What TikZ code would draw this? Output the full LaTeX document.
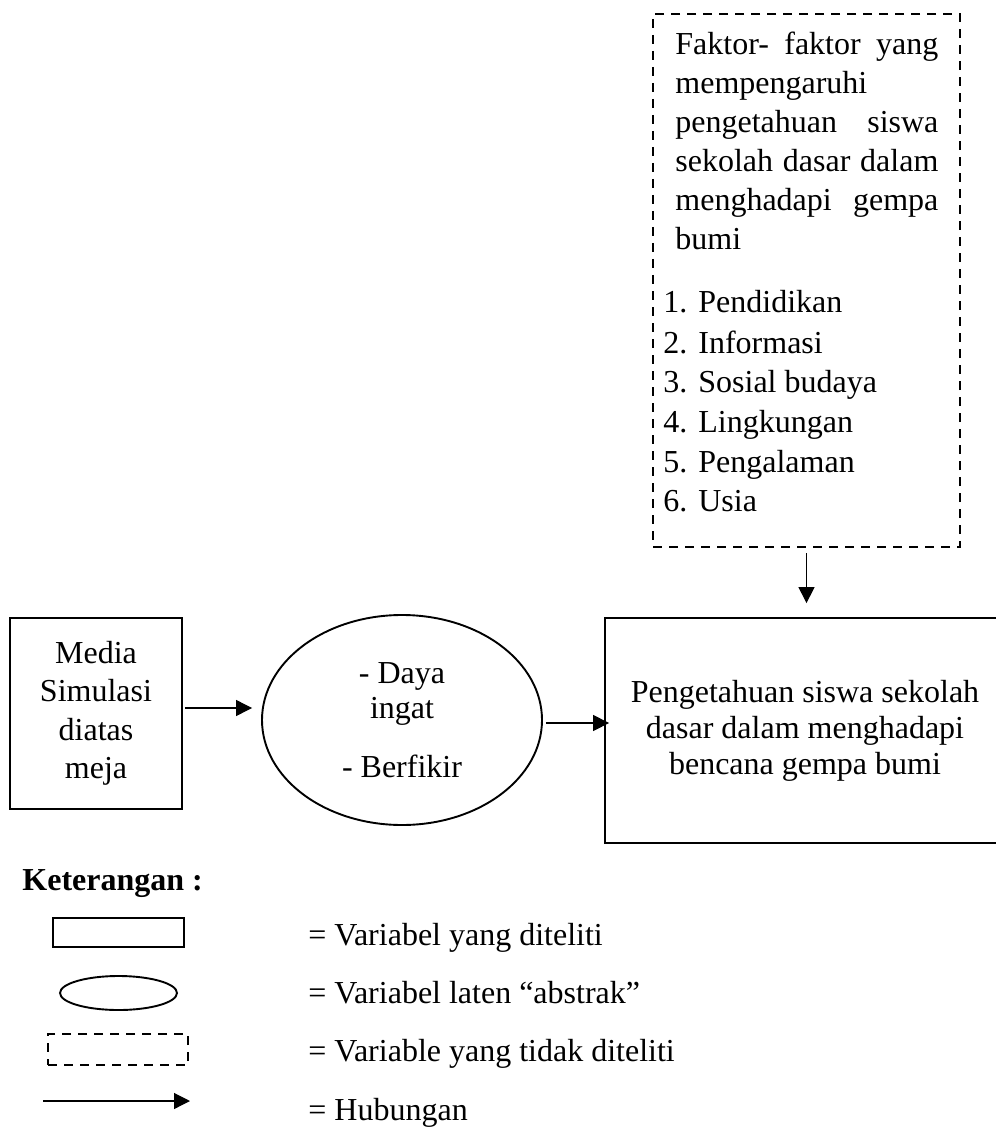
\documentclass[tikz,border=0pt]{standalone}
\usepackage{fontspec}
\setmainfont{Liberation Serif}
\usetikzlibrary{shapes.geometric,arrows.meta}

\begin{document}
\begin{tikzpicture}[x=0.5pt,y=-0.5pt,
	font=\fontsize{16}{19.5}\selectfont,
	kotak/.style={shape=rectangle,draw=black,line width=0.9pt,inner sep=0pt},
	elips/.style={shape=ellipse,draw=black,line width=0.95pt,inner sep=0pt},
	putus/.style={shape=rectangle,draw=black,line width=1.3pt,dash pattern=on 4.5pt off 3.5pt,inner sep=0pt},
	panah/.style={line width=0.6pt,-{Triangle[length=8pt,width=8pt]}},
	teks/.style={inner sep=0pt,anchor=base west}]
	
	\useasboundingbox (0,0) rectangle (995,1128);
	
	% faktor yang tidak diteliti
	\node[putus,minimum width=153.5pt,minimum height=266.5pt] (faktor) at (806.5,280.5) {};
	\node[teks] (f1) at (675,55)  {\makebox[131.5pt][s]{Faktor- faktor yang}};
	\node[teks] (f2) at (675,94)  {mempengaruhi};
	\node[teks] (f3) at (675,133) {\makebox[131.5pt][s]{pengetahuan siswa}};
	\node[teks] (f4) at (675,172) {\makebox[131.5pt][s]{sekolah dasar dalam}};
	\node[teks] (f5) at (675,211) {\makebox[131.5pt][s]{menghadapi gempa}};
	\node[teks] (f6) at (675,250) {bumi};
	\node[teks] (i1) at (663,313) {1.\hspace{5.5pt}Pendidikan};
	\node[teks] (i2) at (663,353) {2.\hspace{5.5pt}Informasi};
	\node[teks] (i3) at (663,392) {3.\hspace{5.5pt}Sosial budaya};
	\node[teks] (i4) at (663,432) {4.\hspace{5.5pt}Lingkungan};
	\node[teks] (i5) at (663,472) {5.\hspace{5.5pt}Pengalaman};
	\node[teks] (i6) at (663,511) {6.\hspace{5.5pt}Usia};
	
	% alur utama
	\node[kotak,minimum width=86pt,minimum height=95.5pt,align=center,font=\fontsize{16}{19.25}\selectfont] (media) at (96,713.5) {Media\\Simulasi\\diatas\\meja};
	\node[elips,minimum width=140pt,minimum height=105pt,align=center,font=\fontsize{16}{17.5}\selectfont] (proses) at (402,720) {- Daya\\ingat\\[12pt]- Berfikir};
	\node[kotak,minimum width=200pt,minimum height=112.5pt,align=center,font=\fontsize{16}{18}\selectfont] (hasil) at (805,730.5) {Pengetahuan siswa sekolah\\dasar dalam menghadapi\\bencana gempa bumi};
	
	\draw[panah,shorten <=1pt,shorten >=4.5pt] ([yshift=2.75pt]media.east) -- ([yshift=2.75pt]media.east -| proses.west);
	\draw[panah,shorten <=1.5pt,shorten >=-2.5pt] ([yshift=-1.5pt]proses.east) -- ([yshift=-1.5pt]proses.east -| hasil.west);
	\draw[panah,shorten <=2.5pt,shorten >=7pt] (faktor.south) -- (faktor.south |- hasil.north);
	
	% keterangan
	\node[teks,font=\bfseries\fontsize{16}{19.5}\selectfont] (ket) at (22,890) {Keterangan :};
	\node[kotak,minimum width=65.5pt,minimum height=14.5pt] (lkotak) at (118.5,932.5) {};
	\node[elips,minimum width=58.5pt,minimum height=17pt] (lelips) at (118.5,993) {};
	\node[putus,minimum width=70pt,minimum height=15.5pt] (lputus) at (118,1049.5) {};
	\coordinate (lpa) at (43,1101);
	\coordinate (lpb) at (190,1101);
	\draw[panah] (lpa) -- (lpb);
	\node[teks] (k1) at (308,945)  {= Variabel yang diteliti};
	\node[teks] (k2) at (308,1003) {= Variabel laten “abstrak”};
	\node[teks] (k3) at (308,1061) {= Variable yang tidak diteliti};
	\node[teks] (k4) at (308,1120) {= Hubungan};
	
\end{tikzpicture}
\end{document}
